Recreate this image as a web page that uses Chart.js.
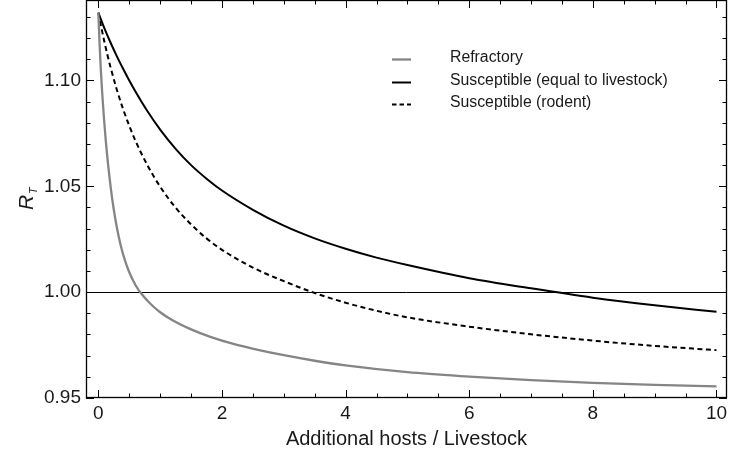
<!DOCTYPE html>
<html><head><meta charset="utf-8">
<script src="https://cdn.jsdelivr.net/npm/chart.js@4/dist/chart.umd.min.js"></script>
<style>html,body{margin:0;padding:0;background:#fff}#c{display:block}</style>
</head><body>
<canvas id="c" width="750" height="469"></canvas>
<script>
// ---- data ----
const seriesLabels = ['Refractory', 'Susceptible (equal to livestock)', 'Susceptible (rodent)'];

const refractoryX = [0, 0.02, 0.04, 0.06, 0.09, 0.12, 0.16, 0.2, 0.25, 0.3, 0.36, 0.43, 0.5, 0.6, 0.7, 0.85, 1, 1.2, 1.5, 1.8, 2.2, 2.6, 3, 3.5, 4, 5, 6, 7, 8, 9, 10];
const refractoryY = [1.132, 1.117, 1.105, 1.095, 1.0824, 1.0716, 1.0596, 1.0494, 1.0389, 1.0304, 1.0223, 1.0150, 1.0094, 1.0034, 0.9991, 0.9943, 0.9905, 0.9867, 0.9824, 0.9790, 0.9754, 0.9726, 0.9702, 0.9676, 0.9654, 0.9622, 0.9601, 0.9584, 0.9571, 0.9562, 0.9555];

const equalX = [0, 0.1, 0.2, 0.3, 0.4, 0.5, 0.6, 0.8, 1, 1.25, 1.5, 1.75, 2, 2.5, 3, 3.5, 4, 4.5, 5, 6, 7, 8, 9, 10];
const equalY = [1.1320, 1.1245, 1.1177, 1.1114, 1.1055, 1.1000, 1.0948, 1.0852, 1.0768, 1.0677, 1.0600, 1.0536, 1.0480, 1.0389, 1.0314, 1.0254, 1.0205, 1.0163, 1.0128, 1.0066, 1.0018, 0.9974, 0.9938, 0.9907];

const rodentX = [0, 0.05, 0.1, 0.15, 0.2, 0.3, 0.4, 0.5, 0.6, 0.8, 1, 1.25, 1.5, 1.75, 2, 2.5, 3, 3.5, 4, 4.5, 5, 6, 7, 8, 9, 10];
const rodentY = [1.132, 1.1247, 1.1179, 1.1117, 1.1059, 1.0955, 1.0865, 1.0786, 1.0715, 1.0596, 1.0498, 1.0399, 1.0320, 1.0254, 1.0200, 1.0116, 1.0052, 0.9996, 0.9950, 0.9912, 0.9881, 0.9837, 0.9801, 0.9771, 0.9746, 0.9726];

const xTicks = [0, 2, 4, 6, 8, 10];
const yTicks = [0.95, 1.00, 1.05, 1.10];
const xMinorTicks = [0, 0.5, 1, 1.5, 2, 2.5, 3, 3.5, 4, 4.5, 5, 5.5, 6, 6.5, 7, 7.5, 8, 8.5, 9, 9.5, 10];
const yMinorTicks = [0.95, 0.96, 0.97, 0.98, 0.99, 1.00, 1.01, 1.02, 1.03, 1.04, 1.05, 1.06, 1.07, 1.08, 1.09, 1.10, 1.11, 1.12, 1.13];
const thresholdY = 1.00;
const xTitle = 'Additional hosts / Livestock';
const yTitleMain = 'R';
const yTitleSub = 'T';

// ---- drawing ----
const FONT = '"Liberation Sans", Arial, sans-serif';
const toPts = (xs, ys) => xs.map((x, i) => ({x: x, y: ys[i]}));

const framePlugin = {
  id: 'frame',
  beforeDatasetsDraw(chart) {
    const {ctx, chartArea: a, scales: {y}} = chart;
    const py = Math.round(y.getPixelForValue(thresholdY)) + 0.5;
    ctx.save();
    ctx.strokeStyle = '#000'; ctx.lineWidth = 1;
    ctx.beginPath(); ctx.moveTo(a.left, py); ctx.lineTo(a.right, py); ctx.stroke();
    ctx.restore();
  },
  afterDraw(chart) {
    const {ctx, chartArea: a, scales: {x, y}} = chart;
    ctx.save();
    // frame
    ctx.strokeStyle = '#000'; ctx.lineWidth = 1.3; ctx.setLineDash([]);
    ctx.strokeRect(a.left + 0.5, a.top + 0.5, a.right - a.left - 1, a.bottom - a.top - 1);
    // ticks (inward, all four sides)
    ctx.lineWidth = 1;
    ctx.beginPath();
    xMinorTicks.forEach(v => {
      const px = Math.round(x.getPixelForValue(v)) + 0.5;
      const len = xTicks.includes(v) ? 8 : 4.5;
      ctx.moveTo(px, a.bottom); ctx.lineTo(px, a.bottom - len);
      ctx.moveTo(px, a.top); ctx.lineTo(px, a.top + len);
    });
    yMinorTicks.forEach(v => {
      const py = Math.round(y.getPixelForValue(v)) + 0.5;
      const len = yTicks.some(t => Math.abs(t - v) < 1e-9) ? 8 : 4.5;
      ctx.moveTo(a.left, py); ctx.lineTo(a.left + len, py);
      ctx.moveTo(a.right, py); ctx.lineTo(a.right - len, py);
    });
    ctx.stroke();
    // legend
    const rowY = [58, 81, 103];
    ctx.font = '15.8px ' + FONT;
    ctx.textBaseline = 'middle'; ctx.textAlign = 'left';
    chart.data.datasets.forEach((ds, i) => {
      ctx.strokeStyle = ds.borderColor; ctx.lineWidth = ds.borderWidth;
      ctx.setLineDash(ds.borderDash ? [4.5, 3] : []);
      ctx.beginPath(); ctx.moveTo(392, rowY[i] + 1.5); ctx.lineTo(411, rowY[i] + 1.5); ctx.stroke();
      ctx.setLineDash([]);
      ctx.fillStyle = '#1a1a1a';
      ctx.fillText(ds.label, 450, rowY[i]);
    });
    // x title
    ctx.fillStyle = '#1a1a1a';
    ctx.font = '20px ' + FONT;
    ctx.textAlign = 'center'; ctx.textBaseline = 'alphabetic';
    ctx.fillText(xTitle, (a.left + a.right) / 2, 445);
    // y title (rotated, with subscript)
    ctx.translate(33, 198.5);
    ctx.rotate(-Math.PI / 2);
    ctx.textAlign = 'left';
    ctx.font = 'italic 21px ' + FONT;
    ctx.fillText(yTitleMain, -11.5, 0);
    ctx.font = 'italic 11px ' + FONT;
    ctx.fillText(yTitleSub, 4.5, 4);
    ctx.restore();
  }
};

const noPad = s => { s.paddingTop = 0; s.paddingBottom = 0; s.paddingLeft = 0; s.paddingRight = 0; };

new Chart(document.getElementById('c'), {
  type: 'line',
  data: {
    datasets: [
      {label: seriesLabels[0], data: toPts(refractoryX, refractoryY), borderColor: '#858585', borderWidth: 2.3,
       pointRadius: 0, cubicInterpolationMode: 'monotone', fill: false},
      {label: seriesLabels[1], data: toPts(equalX, equalY), borderColor: '#000000', borderWidth: 2,
       pointRadius: 0, cubicInterpolationMode: 'monotone', fill: false},
      {label: seriesLabels[2], data: toPts(rodentX, rodentY), borderColor: '#000000', borderWidth: 2,
       borderDash: [5, 3.5], pointRadius: 0, cubicInterpolationMode: 'monotone', fill: false}
    ]
  },
  options: {
    responsive: false, animation: false, devicePixelRatio: 1,
    layout: {padding: {left: 0, right: 23, top: 0, bottom: 0}},
    plugins: {legend: {display: false}, tooltip: {enabled: false}, title: {display: false}},
    scales: {
      x: {
        type: 'linear', min: -0.2, max: 10.17,
        afterBuildTicks: s => { s.ticks = xTicks.map(v => ({value: v})); },
        afterFit: s => { s.height = 71; noPad(s); },
        grid: {display: false, drawTicks: false}, border: {display: false},
        ticks: {padding: 4, color: '#1a1a1a', font: {family: FONT, size: 19}, maxRotation: 0, autoSkip: false,
                callback: v => String(v)}
      },
      y: {
        type: 'linear', min: 0.95, max: 1.138,
        afterBuildTicks: s => { s.ticks = yTicks.map(v => ({value: v})); },
        afterFit: s => { s.width = 86; noPad(s); },
        grid: {display: false, drawTicks: false}, border: {display: false},
        ticks: {padding: 5, color: '#1a1a1a', font: {family: FONT, size: 19}, autoSkip: false,
                callback: v => Number(v).toFixed(2)}
      }
    }
  },
  plugins: [framePlugin]
});
</script>
</body></html>
